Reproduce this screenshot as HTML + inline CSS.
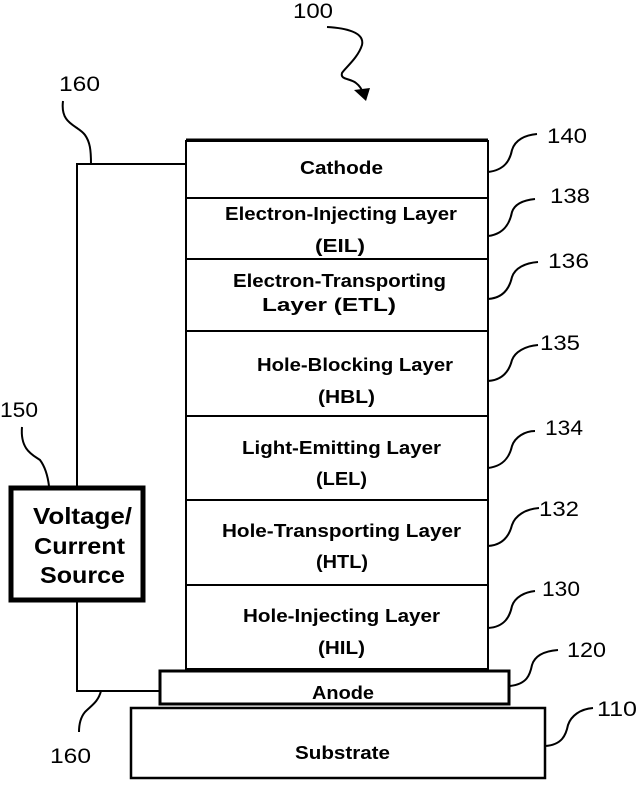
<!DOCTYPE html>
<html><head><style>body{margin:0;background:#fff}</style></head><body>
<svg width="637" height="780" viewBox="0 0 637 780" xmlns="http://www.w3.org/2000/svg" font-family="Liberation Sans, Arial, sans-serif">
<g fill="none" stroke="#000" stroke-width="2">
<rect x="186" y="141" width="302" height="528"/>
<line x1="186" y1="140" x2="488" y2="140" stroke-width="3"/>
<line x1="186" y1="198" x2="488" y2="198"/>
<line x1="186" y1="259" x2="488" y2="259"/>
<line x1="186" y1="331" x2="488" y2="331"/>
<line x1="186" y1="416" x2="488" y2="416"/>
<line x1="186" y1="500" x2="488" y2="500"/>
<line x1="186" y1="585" x2="488" y2="585"/>
<rect x="160" y="671" width="349" height="33" stroke-width="3"/>
<rect x="131" y="708" width="414" height="70" stroke-width="2.5"/>
<rect x="11" y="488" width="132" height="112" stroke-width="5"/>
<polyline points="185,164 77,164 77,486"/>
<polyline points="77,602 77,691 160,691"/>
<path d="M63,101 C60,125 78,125 85,135 C90,142 91,150 91,164"/>
<path d="M22,427 C20,450 33,455 40,460 C46,468 48,478 49,486"/>
<path d="M101,691 C98,702 92,705 85,712 C80,718 79,725 79,732"/>
<path d="M327,27 C345,28 365,32 362,45 C358,58 345,68 342,73 C340,80 350,78 356,83 C360,86 362,90 363,93"/>
<path d="M488,172 C505,170 510,160 512,150 C515,140 525,135 537,134"/>
<path d="M488,236 C505,234 510,222 512,212 C515,203 525,200 535,199"/>
<path d="M488,299 C505,298 510,286 512,277 C515,268 525,263 538,262"/>
<path d="M488,381 C505,380 510,368 512,360 C515,352 525,346 538,345"/>
<path d="M488,468 C505,466 510,455 512,446 C515,437 525,431 535,431"/>
<path d="M488,546 C505,545 510,533 512,525 C515,516 525,509 539,508"/>
<path d="M488,628 C505,627 510,616 512,606 C515,597 525,592 535,591"/>
<path d="M510,686 C527,684 530,675 532,665 C535,655 545,651 558,650"/>
<path d="M545,746 C562,745 566,735 568,725 C571,716 580,709 593,708"/>
</g>
<path d="M354,90 L370,88 L366,101 Z" fill="#000"/>
<g font-size="21" fill="#000">
<text x="293" y="18" textLength="40" lengthAdjust="spacingAndGlyphs">100</text>
<text x="59" y="91" textLength="41" lengthAdjust="spacingAndGlyphs">160</text>
<text x="0" y="417" textLength="38" lengthAdjust="spacingAndGlyphs">150</text>
<text x="50" y="763" textLength="41" lengthAdjust="spacingAndGlyphs">160</text>
<text x="547" y="143" textLength="40" lengthAdjust="spacingAndGlyphs">140</text>
<text x="550" y="203" textLength="40" lengthAdjust="spacingAndGlyphs">138</text>
<text x="548" y="268" textLength="41" lengthAdjust="spacingAndGlyphs">136</text>
<text x="540" y="350" textLength="40" lengthAdjust="spacingAndGlyphs">135</text>
<text x="545" y="435" textLength="38" lengthAdjust="spacingAndGlyphs">134</text>
<text x="539" y="516" textLength="40" lengthAdjust="spacingAndGlyphs">132</text>
<text x="542" y="596" textLength="38" lengthAdjust="spacingAndGlyphs">130</text>
<text x="567" y="657" textLength="39" lengthAdjust="spacingAndGlyphs">120</text>
<text x="597" y="716" textLength="40" lengthAdjust="spacingAndGlyphs">110</text>
</g>
<g font-size="18" font-weight="bold" fill="#000">
<text x="300" y="174" textLength="83" lengthAdjust="spacingAndGlyphs">Cathode</text>
<text x="225" y="220" textLength="232" lengthAdjust="spacingAndGlyphs">Electron-Injecting Layer</text>
<text x="315" y="252" textLength="50" lengthAdjust="spacingAndGlyphs">(EIL)</text>
<text x="233" y="287" textLength="213" lengthAdjust="spacingAndGlyphs">Electron-Transporting</text>
<text x="262" y="311" textLength="134" lengthAdjust="spacingAndGlyphs">Layer  (ETL)</text>
<text x="257" y="371" textLength="196" lengthAdjust="spacingAndGlyphs">Hole-Blocking Layer</text>
<text x="318" y="403" textLength="57" lengthAdjust="spacingAndGlyphs">(HBL)</text>
<text x="242" y="454" textLength="199" lengthAdjust="spacingAndGlyphs">Light-Emitting Layer</text>
<text x="316" y="485" textLength="51" lengthAdjust="spacingAndGlyphs">(LEL)</text>
<text x="222" y="537" textLength="239" lengthAdjust="spacingAndGlyphs">Hole-Transporting Layer</text>
<text x="316" y="568" textLength="52" lengthAdjust="spacingAndGlyphs">(HTL)</text>
<text x="243" y="622" textLength="197" lengthAdjust="spacingAndGlyphs">Hole-Injecting Layer</text>
<text x="318" y="654" textLength="47" lengthAdjust="spacingAndGlyphs">(HIL)</text>
<text x="312" y="699" textLength="62" lengthAdjust="spacingAndGlyphs">Anode</text>
<text x="295" y="759" textLength="95" lengthAdjust="spacingAndGlyphs">Substrate</text>
</g>
<g font-size="23" font-weight="bold" fill="#000">
<text x="33" y="524" textLength="99" lengthAdjust="spacingAndGlyphs">Voltage/</text>
<text x="34" y="554" textLength="91" lengthAdjust="spacingAndGlyphs">Current</text>
<text x="40" y="583" textLength="85" lengthAdjust="spacingAndGlyphs">Source</text>
</g>
</svg>
</body></html>
